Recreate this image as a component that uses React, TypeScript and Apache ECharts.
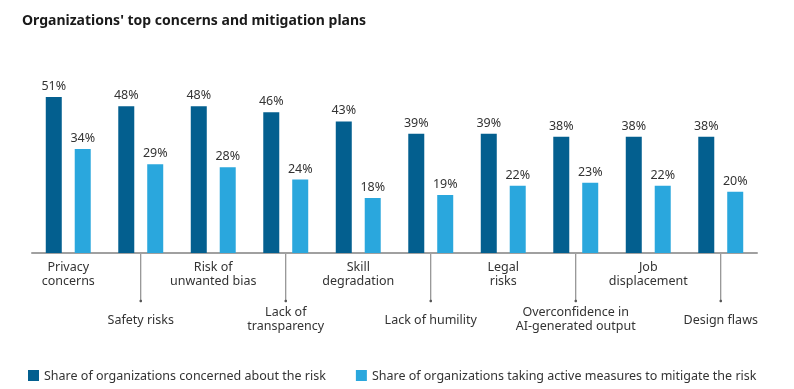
import React, { useEffect, useRef } from "react";
import * as echarts from "echarts";

const categories = [
  "Privacy\nconcerns",
  "Safety risks",
  "Risk of\nunwanted bias",
  "Lack of\ntransparency",
  "Skill\ndegradation",
  "Lack of humility",
  "Legal\nrisks",
  "Overconfidence in\nAI-generated output",
  "Job\ndisplacement",
  "Design flaws",
];
const concerned = [51, 48, 48, 46, 43, 39, 39, 38, 38, 38];
const mitigating = [34, 29, 28, 24, 18, 19, 22, 23, 22, 20];
const seriesNames = [
  "Share of organizations concerned about the risk",
  "Share of organizations taking active measures to mitigate the risk",
];
const titleText = "Organizations' top concerns and mitigation plans";

const FONT = "'Noto Sans', 'Open Sans', sans-serif";
const DARK = "#035f8f";
const LIGHT = "#2aa7dd";

export default function App() {
  const ref = useRef<HTMLDivElement>(null);
  useEffect(() => {
    if (!ref.current) return;
    const chart = echarts.init(ref.current, null, { renderer: "svg" });
    const leaderData = categories
      .map((_, i) => i)
      .filter((i) => i % 2 === 1)
      .map((i) => [i, 0]);
    chart.setOption({
      animation: false,
      textStyle: { fontFamily: FONT },
      title: {
        text: titleText,
        left: 17,
        top: 7,
        textStyle: { fontFamily: FONT, fontSize: 14, fontWeight: "bold", color: "#1a1a1a" },
      },
      legend: {
        data: seriesNames,
        left: 23,
        top: 364,
        itemWidth: 11,
        itemHeight: 11,
        itemGap: 30,
        icon: "rect",
        textStyle: { fontFamily: FONT, fontSize: 12.5, color: "#333" },
      },
      grid: { left: 32, right: 37, top: 69.5, bottom: 136, containLabel: false },
      xAxis: {
        type: "category",
        data: categories,
        axisLine: { lineStyle: { color: "#a0a0a0", width: 2 } },
        axisTick: { show: false },
        axisLabel: {
          interval: 0,
          margin: 6.5,
          formatter: (value: string, index: number) => {
            const lines = value.split("\n").map((l) => `{a|${l}}`).join("\n");
            if (index % 2 === 0) return lines;
            const spacer = value.includes("\n") ? "s2" : "s1";
            return `{${spacer}| }\n` + lines;
          },
          rich: {
            a: { fontFamily: FONT, fontSize: 12.5, lineHeight: 14, color: "#333" },
            s1: { fontSize: 1, lineHeight: 53 },
            s2: { fontSize: 1, lineHeight: 45 },
          },
        },
      },
      yAxis: {
        type: "value",
        min: 0,
        max: 60,
        show: false,
        splitLine: { show: false },
      },
      series: [
        {
          name: seriesNames[0],
          type: "bar",
          data: concerned,
          barWidth: 16,
          barGap: "81%",
          itemStyle: { color: DARK },
          label: {
            show: true,
            position: "top",
            distance: 5,
            formatter: "{c}%",
            fontFamily: FONT,
            fontSize: 12.5,
            color: "#333",
          },
        },
        {
          name: seriesNames[1],
          type: "bar",
          data: mitigating,
          barWidth: 16,
          itemStyle: { color: LIGHT },
          label: {
            show: true,
            position: "top",
            distance: 5,
            formatter: "{c}%",
            fontFamily: FONT,
            fontSize: 12.5,
            color: "#333",
          },
        },
        {
          type: "custom",
          data: leaderData,
          silent: true,
          clip: false,
          encode: { x: 0, y: 1 },
          renderItem: (params: any, api: any) => {
            const p = api.coord([api.value(0), 0]);
            return {
              type: "group",
              children: [
                {
                  type: "line",
                  shape: { x1: p[0], y1: p[1] + 1, x2: p[0], y2: p[1] + 48 },
                  style: { stroke: "#777", lineWidth: 1 },
                },
                {
                  type: "circle",
                  shape: { cx: p[0], cy: p[1] + 48, r: 1.3 },
                  style: { fill: "#555" },
                },
              ],
            };
          },
        },
      ],
    });
    return () => chart.dispose();
  }, []);
  return (
    <div
      ref={ref}
      style={{ position: "fixed", left: 0, top: 0, width: 794, height: 389 }}
    />
  );
}
